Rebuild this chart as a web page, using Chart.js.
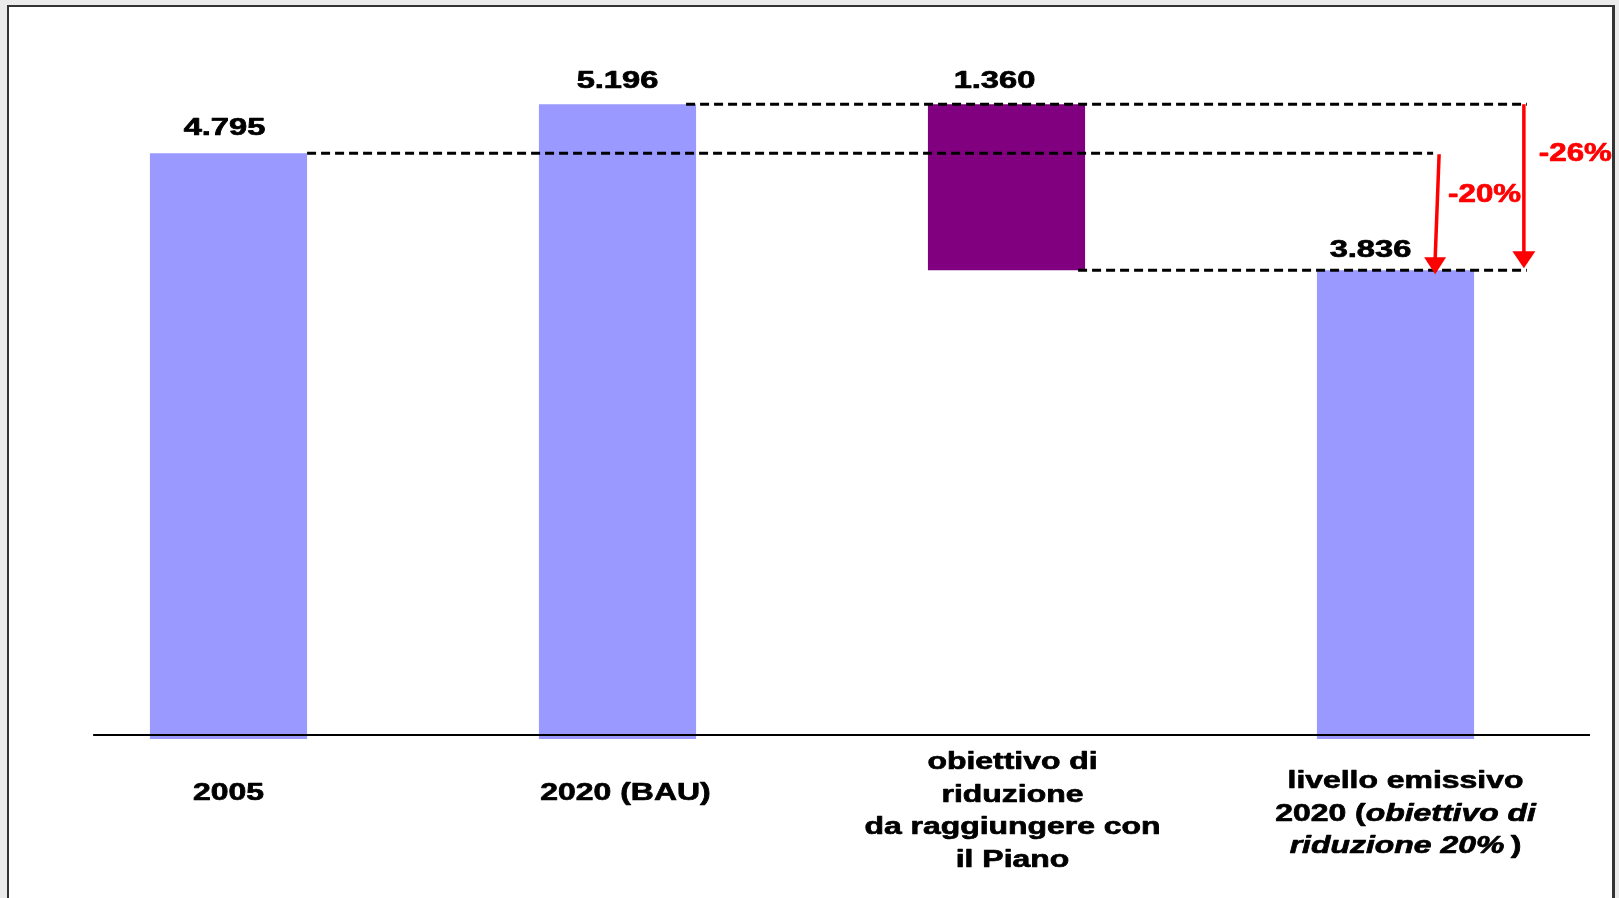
<!DOCTYPE html>
<html><head><meta charset="utf-8">
<script src="https://cdn.jsdelivr.net/npm/chart.js@4.4.0/dist/chart.umd.min.js"></script>
<style>html,body{margin:0;padding:0;background:#ebebeb;overflow:hidden}#wrap{width:1619px;height:898px;position:relative}</style>
</head><body><div id="wrap"><canvas id="c"></canvas></div>
<script>
// ---- data ----
const categories = [
  ['2005'],
  ['2020 (BAU)'],
  ['obiettivo di', 'riduzione', 'da raggiungere con', 'il Piano'],
  ['livello emissivo', '2020 (*obiettivo di*', '*riduzione 20%*\u2009)']
];
const values = [4795, 5196, 1360, 3836];
const valueLabels = ['4.795', '5.196', '1.360', '3.836'];
const reductionLabels = ['-20%', '-26%'];
const barColors = ['#9999FF', '#9999FF', '#800080', '#9999FF'];

// third bar floats from the 2020 target level up to the BAU level
const barData = values.map((v, i) => i === 2 ? [values[3], values[3] + values[2]] : [0, v]);
const plainLabels = categories.map(l => l.join(' ').replace(/\*/g, ''));

const FONT = '"Liberation Sans", Arial, Helvetica, sans-serif';
function parseLine(line) {
  return line.split('*').map((t, i) => ({ t, it: i % 2 === 1 })).filter(s => s.t.length);
}
function drawText(ctx, segs, x, y, size, sx, color, align, weight) {
  ctx.save();
  let total = 0;
  segs.forEach(s => { ctx.font = (s.it ? 'italic ' : '') + 'bold ' + size + 'px ' + FONT; s.w = ctx.measureText(s.t).width; total += s.w; });
  ctx.translate(x, y); ctx.scale(sx, 1);
  let cx = align === 'center' ? -total / 2 : 0;
  ctx.fillStyle = color; ctx.strokeStyle = color; ctx.lineWidth = weight; ctx.lineJoin = 'round';
  ctx.textBaseline = 'alphabetic'; ctx.textAlign = 'left';
  segs.forEach(s => {
    ctx.font = (s.it ? 'italic ' : '') + 'bold ' + size + 'px ' + FONT;
    ctx.fillText(s.t, cx, 0);
    if (weight > 0) ctx.strokeText(s.t, cx, 0);
    cx += s.w;
  });
  ctx.restore();
}
function arrow(ctx, x0, y0, x1, y1, hw, hh) {
  ctx.save();
  ctx.strokeStyle = '#FF0000'; ctx.fillStyle = '#FF0000'; ctx.lineWidth = 3.5;
  ctx.beginPath(); ctx.moveTo(x0, y0); ctx.lineTo(x1, y1 - hh + 2); ctx.stroke();
  ctx.beginPath(); ctx.moveTo(x1, y1); ctx.lineTo(x1 - hw / 2, y1 - hh); ctx.lineTo(x1 + hw / 2, y1 - hh); ctx.closePath(); ctx.fill();
  ctx.restore();
}

const decor = {
  id: 'decor',
  beforeDraw(chart) {
    const ctx = chart.ctx, W = chart.width, H = chart.height;
    ctx.save();
    ctx.fillStyle = '#ebebeb'; ctx.fillRect(0, 0, W, H);
    ctx.fillStyle = '#ffffff'; ctx.fillRect(7, 5, 1607, H);
    ctx.fillStyle = '#333333';
    ctx.fillRect(7, 5, 1607, 2);   // top
    ctx.fillRect(7, 5, 2, H);      // left
    ctx.fillRect(1612, 5, 3, H);   // right
    ctx.restore();
  },
  afterDatasetsDraw(chart) {
    const ctx = chart.ctx, xs = chart.scales.x, ys = chart.scales.y, ca = chart.chartArea;
    const meta = chart.getDatasetMeta(0);
    const catW = xs.getPixelForValue(1) - xs.getPixelForValue(0);
    const yZero = ys.getPixelForValue(0);
    ctx.save();
    ctx.beginPath(); ctx.rect(9, 7, 1603, chart.height); ctx.clip();

    // x axis line
    const axL = ca.left + 0.152 * catW;
    ctx.fillStyle = '#000'; ctx.fillRect(axL, yZero - 5, ca.right - axL, 2);

    // dashed reference lines
    const yA = ys.getPixelForValue(values[0]);
    const yB = ys.getPixelForValue(values[1]);
    const yT = ys.getPixelForValue(values[3]);
    const a1x = xs.getPixelForValue(3) + 0.107 * catW;
    const a2x = xs.getPixelForValue(3) + 0.33 * catW;
    const right = i => meta.data[i].x + meta.data[i].width / 2;
    ctx.strokeStyle = '#000'; ctx.lineWidth = 3; ctx.setLineDash([9, 5]);
    const dl = (x0, x1, y) => { ctx.beginPath(); ctx.moveTo(x0, y); ctx.lineTo(x1, y); ctx.stroke(); };
    dl(right(0), a1x - 4, yA);
    dl(right(1) - 10, a2x + 3, yB);
    dl(right(2) - 7, a2x + 3, yT);
    ctx.setLineDash([]);

    // red arrows
    arrow(ctx, a1x + 2, yA + 1, a1x - 2, yT + 4, 22, 17);
    arrow(ctx, a2x, yB, a2x, yT - 2, 23, 17);
    drawText(ctx, [{ t: reductionLabels[0] }], a1x + 11, yA + 49, 25, 1.25, '#FF0000', 'left', 0.7);
    drawText(ctx, [{ t: reductionLabels[1] }], a2x + 15, yB + 57, 25, 1.25, '#FF0000', 'left', 0.7);

    // value labels
    const vdx = [-4, 0, -12, -25], vdy = [18, 16, 16, 13];
    meta.data.forEach((bar, i) => {
      drawText(ctx, [{ t: valueLabels[i] }], bar.x + vdx[i], bar.y - vdy[i], 23, 1.42, '#000', 'center', 0.7);
    });

    // category labels
    const cdx = [0, 8, 6, 10], cdy = [61, 61, 30, 49];
    categories.forEach((lines, i) => {
      const cx = xs.getPixelForValue(i) + cdx[i];
      lines.forEach((ln, j) => {
        drawText(ctx, parseLine(ln), cx, yZero + cdy[i] + j * 32.5, 24, 1.33, '#000', 'center', 0.7);
      });
    });
    ctx.restore();
  }
};

new Chart(document.getElementById('c'), {
  type: 'bar',
  data: {
    labels: plainLabels,
    datasets: [{
      data: barData,
      backgroundColor: barColors,
      borderWidth: 0,
      categoryPercentage: 1,
      barPercentage: 0.404
    }]
  },
  options: {
    responsive: true,
    maintainAspectRatio: false,
    animation: false,
    layout: { padding: { left: 34, right: 29, top: 6, bottom: 159 } },
    plugins: { legend: { display: false }, tooltip: { enabled: false } },
    scales: {
      x: { display: false, grid: { display: false } },
      y: { display: false, min: 0, max: 6000, grid: { display: false } }
    }
  },
  plugins: [decor]
});
</script>
</body></html>
